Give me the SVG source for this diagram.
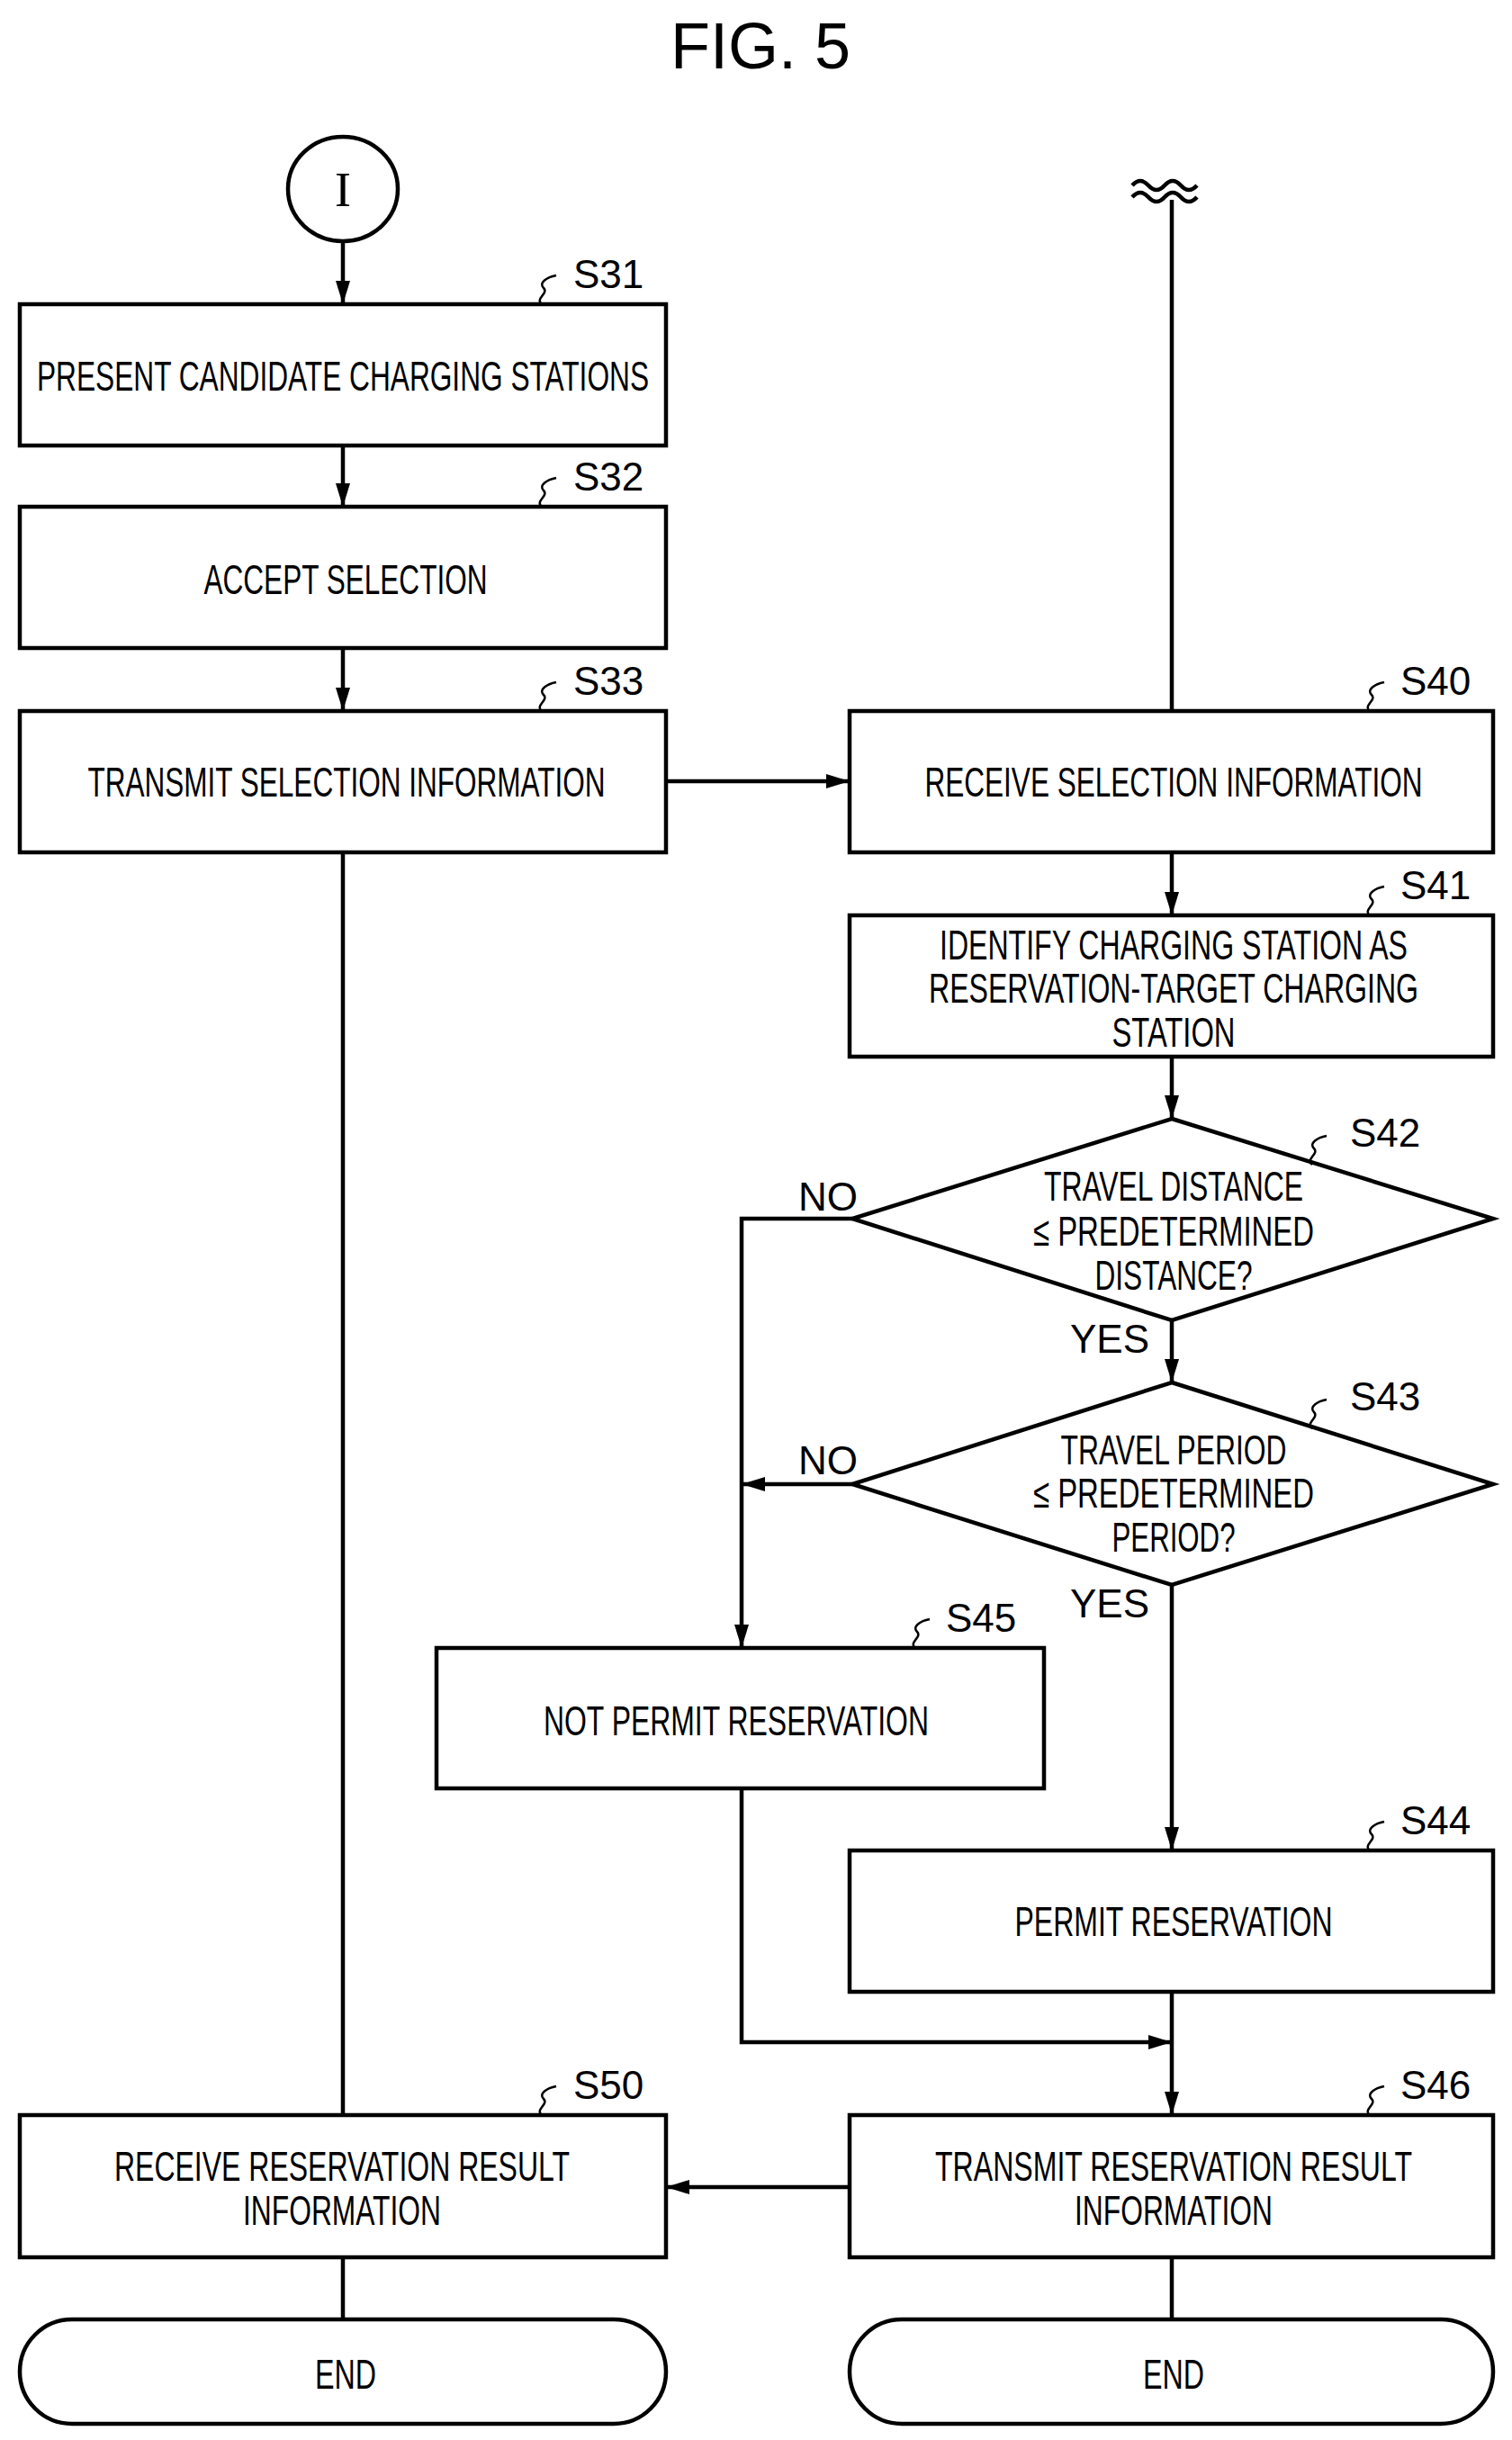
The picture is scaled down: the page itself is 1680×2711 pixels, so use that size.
<svg xmlns="http://www.w3.org/2000/svg" xmlns:xlink="http://www.w3.org/1999/xlink" width="1680" height="2711" viewBox="0 0 1680 2711">
<style>
.b{fill:#fff;stroke:#000;stroke-width:4.5}
.l{fill:none;stroke:#000;stroke-width:4.5}
.t{font-family:"Liberation Sans",Arial,sans-serif;font-size:46px;text-anchor:middle;fill:#000}
.s{font-family:"Liberation Sans",Arial,sans-serif;font-size:44px;fill:#000}
.q{fill:none;stroke:#000;stroke-width:2.5}
</style>
<defs>
<marker id="a" markerWidth="26" markerHeight="16" refX="26" refY="8" viewBox="0 0 26 16" markerUnits="userSpaceOnUse" orient="auto"><path d="M0,0 L26,8 L0,16 Z" fill="#000"/></marker>
<path id="sq" d="M0,0 c-8,-6 8,-12 2,-18 c-6,-6 4,-12 14,-14" class="q"/>
</defs>
<rect width="1680" height="2711" fill="#fff"/>
<text x="845" y="76" class="s" style="font-size:72px" text-anchor="middle">FIG. 5</text>

<g id="connectors">
<line x1="381" y1="268" x2="381" y2="338" class="l" marker-end="url(#a)"/>
<line x1="381" y1="495" x2="381" y2="563" class="l" marker-end="url(#a)"/>
<line x1="381" y1="720" x2="381" y2="790" class="l" marker-end="url(#a)"/>
<line x1="740" y1="868" x2="944" y2="868" class="l" marker-end="url(#a)"/>
<line x1="1302" y1="222" x2="1302" y2="790" class="l"/>
<path d="M1266,206 q9,-10 18,0 t18,0 t18,0 t18,0" class="l" transform="translate(-8,0)"/>
<path d="M1266,219 q9,-10 18,0 t18,0 t18,0 t18,0" class="l" transform="translate(-8,0)"/>
<line x1="1302" y1="947" x2="1302" y2="1017" class="l" marker-end="url(#a)"/>
<line x1="1302" y1="1174" x2="1302" y2="1243" class="l" marker-end="url(#a)"/>
<line x1="1302" y1="1467" x2="1302" y2="1536" class="l" marker-end="url(#a)"/>
<line x1="1302" y1="1761" x2="1302" y2="2056" class="l" marker-end="url(#a)"/>
<polyline points="947,1354 824,1354 824,1831" class="l" marker-end="url(#a)"/>
<line x1="947" y1="1649" x2="824" y2="1649" class="l" marker-end="url(#a)"/>
<polyline points="824,1987 824,2269 1302,2269" class="l" marker-end="url(#a)"/>
<line x1="1302" y1="2213" x2="1302" y2="2350" class="l" marker-end="url(#a)"/>
<line x1="944" y1="2430" x2="740" y2="2430" class="l" marker-end="url(#a)"/>
<line x1="381" y1="947" x2="381" y2="2350" class="l"/>
<line x1="381" y1="2508" x2="381" y2="2577" class="l"/>
<line x1="1302" y1="2508" x2="1302" y2="2577" class="l"/>
</g>

<g id="start"><ellipse cx="381" cy="210" rx="61" ry="58" class="b"/><text x="381" y="229" style="font-family:'Liberation Serif',serif;font-size:54px" text-anchor="middle">I</text></g>

<g id="S31"><rect x="22" y="338" width="718" height="157" class="b"/><text x="381" y="434" class="t" textLength="680" lengthAdjust="spacingAndGlyphs">PRESENT CANDIDATE CHARGING STATIONS</text><use xlink:href="#sq" x="602" y="338"/><text x="637" y="320" class="s">S31</text></g>
<g id="S32"><rect x="22" y="563" width="718" height="157" class="b"/><text x="384" y="660" class="t" textLength="315" lengthAdjust="spacingAndGlyphs">ACCEPT SELECTION</text><use xlink:href="#sq" x="602" y="563"/><text x="637" y="545" class="s">S32</text></g>
<g id="S33"><rect x="22" y="790" width="718" height="157" class="b"/><text x="385" y="885" class="t" textLength="575" lengthAdjust="spacingAndGlyphs">TRANSMIT SELECTION INFORMATION</text><use xlink:href="#sq" x="602" y="790"/><text x="637" y="772" class="s">S33</text></g>
<g id="S40"><rect x="944" y="790" width="715" height="157" class="b"/><text x="1304" y="885" class="t" textLength="553" lengthAdjust="spacingAndGlyphs">RECEIVE SELECTION INFORMATION</text><use xlink:href="#sq" x="1522" y="790"/><text x="1556" y="772" class="s">S40</text></g>
<g id="S41"><rect x="944" y="1017" width="715" height="157" class="b"/>
<text x="1304" y="1066" class="t" textLength="520" lengthAdjust="spacingAndGlyphs">IDENTIFY CHARGING STATION AS</text>
<text x="1304" y="1114" class="t" textLength="544" lengthAdjust="spacingAndGlyphs">RESERVATION-TARGET CHARGING</text>
<text x="1304" y="1163" class="t" textLength="137" lengthAdjust="spacingAndGlyphs">STATION</text>
<use xlink:href="#sq" x="1522" y="1017"/><text x="1556" y="999" class="s">S41</text></g>
<g id="S42"><polygon points="1302,1243 1659,1354 1302,1467 947,1354" class="b"/>
<text x="1304" y="1334" class="t" textLength="288" lengthAdjust="spacingAndGlyphs">TRAVEL DISTANCE</text>
<text x="1304" y="1384" class="t" textLength="312" lengthAdjust="spacingAndGlyphs">≤ PREDETERMINED</text>
<text x="1304" y="1433" class="t" textLength="175" lengthAdjust="spacingAndGlyphs">DISTANCE?</text>
<use xlink:href="#sq" x="1458" y="1294"/><text x="1500" y="1274" class="s">S42</text>
<text x="887" y="1345" class="s">NO</text><text x="1189" y="1503" class="s">YES</text></g>
<g id="S43"><polygon points="1302,1536 1659,1649 1302,1761 947,1649" class="b"/>
<text x="1304" y="1627" class="t" textLength="251" lengthAdjust="spacingAndGlyphs">TRAVEL PERIOD</text>
<text x="1304" y="1675" class="t" textLength="312" lengthAdjust="spacingAndGlyphs">≤ PREDETERMINED</text>
<text x="1304" y="1724" class="t" textLength="137" lengthAdjust="spacingAndGlyphs">PERIOD?</text>
<use xlink:href="#sq" x="1458" y="1587"/><text x="1500" y="1567" class="s">S43</text>
<text x="887" y="1638" class="s">NO</text><text x="1189" y="1797" class="s">YES</text></g>
<g id="S45"><rect x="485" y="1831" width="675" height="156" class="b"/><text x="818" y="1928" class="t" textLength="428" lengthAdjust="spacingAndGlyphs">NOT PERMIT RESERVATION</text><use xlink:href="#sq" x="1017" y="1831"/><text x="1051" y="1813" class="s">S45</text></g>
<g id="S44"><rect x="944" y="2056" width="715" height="157" class="b"/><text x="1304" y="2151" class="t" textLength="353" lengthAdjust="spacingAndGlyphs">PERMIT RESERVATION</text><use xlink:href="#sq" x="1522" y="2056"/><text x="1556" y="2038" class="s">S44</text></g>
<g id="S46"><rect x="944" y="2350" width="715" height="158" class="b"/>
<text x="1304" y="2423" class="t" textLength="530" lengthAdjust="spacingAndGlyphs">TRANSMIT RESERVATION RESULT</text>
<text x="1304" y="2472" class="t" textLength="220" lengthAdjust="spacingAndGlyphs">INFORMATION</text>
<use xlink:href="#sq" x="1522" y="2350"/><text x="1556" y="2332" class="s">S46</text></g>
<g id="S50"><rect x="22" y="2350" width="718" height="158" class="b"/>
<text x="380" y="2423" class="t" textLength="506" lengthAdjust="spacingAndGlyphs">RECEIVE RESERVATION RESULT</text>
<text x="380" y="2472" class="t" textLength="220" lengthAdjust="spacingAndGlyphs">INFORMATION</text>
<use xlink:href="#sq" x="602" y="2350"/><text x="637" y="2332" class="s">S50</text></g>
<g id="END1"><rect x="22" y="2577" width="718" height="116" rx="58" class="b"/><text x="384" y="2654" class="t" textLength="68" lengthAdjust="spacingAndGlyphs">END</text></g>
<g id="END2"><rect x="944" y="2577" width="715" height="116" rx="58" class="b"/><text x="1304" y="2654" class="t" textLength="68" lengthAdjust="spacingAndGlyphs">END</text></g>
</svg>
